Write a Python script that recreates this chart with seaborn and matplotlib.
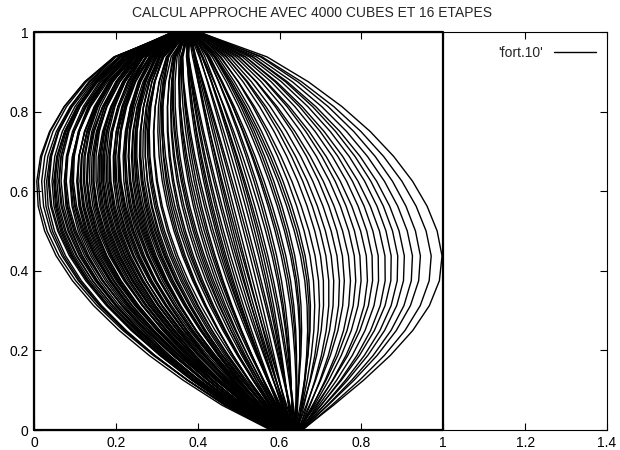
import numpy as np
import pandas as pd
import matplotlib
matplotlib.use("Agg")
import matplotlib.pyplot as plt
from matplotlib.lines import Line2D
from matplotlib.ticker import FormatStrFormatter
import seaborn as sns

# ── DATA ─────────────────────────────────────────────────────────────────────
# x position of every trajectory at mid height (y = 0.5)
x_mid = [
    0.026, 0.040, 0.050, 0.058, 0.065, 0.071, 0.078, 0.083, 0.090, 0.097,
    0.103, 0.108, 0.116, 0.122, 0.128, 0.135, 0.141, 0.148, 0.153, 0.161,
    0.167, 0.173, 0.180, 0.186, 0.193, 0.199, 0.206, 0.212, 0.219, 0.225,
    0.232, 0.239, 0.244, 0.252, 0.258, 0.265, 0.271, 0.277, 0.285, 0.291,
    0.298, 0.305, 0.311, 0.319, 0.326,
    0.342, 0.350, 0.361, 0.370, 0.378, 0.389, 0.397, 0.405, 0.416, 0.425,
    0.433, 0.444, 0.452, 0.463, 0.471, 0.482, 0.492, 0.503, 0.512, 0.524,
    0.533, 0.545, 0.556, 0.566, 0.578, 0.589, 0.600, 0.612, 0.623, 0.636,
    0.648, 0.660,
    0.672, 0.686, 0.699, 0.712, 0.726, 0.740, 0.754, 0.769, 0.783, 0.798,
    0.813, 0.828, 0.844, 0.860, 0.876, 0.892, 0.912, 0.932, 0.958, 0.985,
    # second batch, lying in between the first one
    0.032, 0.045, 0.061, 0.068, 0.075, 0.086, 0.093, 0.100, 0.112, 0.119,
    0.125, 0.131, 0.138, 0.145, 0.151, 0.157, 0.164, 0.170, 0.177, 0.183,
    0.190, 0.196, 0.203, 0.209, 0.216, 0.222, 0.229, 0.235, 0.242, 0.248,
    0.255, 0.262, 0.268, 0.274, 0.281, 0.288, 0.295, 0.302, 0.315, 0.330,
    0.346, 0.356, 0.366, 0.383, 0.393, 0.410, 0.421, 0.438, 0.448, 0.458,
    0.476, 0.487, 0.497, 0.518, 0.539, 0.550, 0.572, 0.594, 0.617, 0.642,
]
# where each trajectory starts (y = 0)
x_bottom = [
    0.578, 0.585, 0.580, 0.592, 0.584, 0.597, 0.588, 0.601, 0.590, 0.595,
    0.604, 0.586, 0.599, 0.607, 0.593, 0.602, 0.610, 0.596, 0.605, 0.612,
    0.598, 0.608, 0.615, 0.603, 0.611, 0.600, 0.617, 0.606, 0.613, 0.620,
    0.609, 0.616, 0.604, 0.619, 0.611, 0.622, 0.614, 0.607, 0.621, 0.616,
    0.624, 0.612, 0.619, 0.626, 0.617,
    0.623, 0.615, 0.628, 0.620, 0.626, 0.618, 0.631, 0.624, 0.629, 0.621,
    0.633, 0.627, 0.622, 0.635, 0.629, 0.625, 0.637, 0.631, 0.627, 0.639,
    0.633, 0.629, 0.641, 0.635, 0.631, 0.643, 0.637, 0.640, 0.634, 0.645,
    0.639, 0.642,
    0.644, 0.638, 0.647, 0.641, 0.649, 0.644, 0.651, 0.646, 0.648, 0.652,
    0.645, 0.650, 0.653, 0.648, 0.654, 0.651, 0.655, 0.652, 0.656, 0.655,
    0.590, 0.582, 0.598, 0.587, 0.603, 0.593, 0.581, 0.606, 0.596, 0.609,
    0.589, 0.601, 0.613, 0.594, 0.607, 0.617, 0.599, 0.610, 0.592, 0.614,
    0.604, 0.619, 0.597, 0.611, 0.621, 0.602, 0.615, 0.608, 0.623, 0.600,
    0.618, 0.612, 0.624, 0.606, 0.620, 0.614, 0.626, 0.610, 0.622, 0.628,
    0.619, 0.627, 0.622, 0.630, 0.624, 0.632, 0.626, 0.634, 0.628, 0.623,
    0.636, 0.630, 0.625, 0.638, 0.632, 0.640, 0.634, 0.642, 0.636, 0.644,
]
# where each trajectory ends (y = 1)
x_top = [
    0.352, 0.345, 0.358, 0.340, 0.350, 0.362, 0.347, 0.355, 0.338, 0.360,
    0.349, 0.366, 0.353, 0.343, 0.359, 0.364, 0.351, 0.346, 0.368, 0.356,
    0.361, 0.344, 0.370, 0.357, 0.363, 0.349, 0.367, 0.354, 0.371, 0.359,
    0.365, 0.352, 0.369, 0.361, 0.373, 0.357, 0.366, 0.372, 0.360, 0.368,
    0.374, 0.363, 0.370, 0.366, 0.375,
    0.369, 0.376, 0.364, 0.372, 0.378, 0.367, 0.374, 0.380, 0.370, 0.377,
    0.373, 0.382, 0.375, 0.379, 0.371, 0.384, 0.377, 0.381, 0.374, 0.386,
    0.379, 0.383, 0.388, 0.376, 0.385, 0.390, 0.381, 0.387, 0.392, 0.384,
    0.389, 0.394,
    0.386, 0.391, 0.396, 0.388, 0.393, 0.398, 0.390, 0.395, 0.400, 0.392,
    0.397, 0.401, 0.394, 0.399, 0.403, 0.396, 0.400, 0.404, 0.398, 0.402,
    0.348, 0.356, 0.341, 0.361, 0.352, 0.339, 0.365, 0.347, 0.358, 0.343,
    0.367, 0.354, 0.362, 0.345, 0.369, 0.350, 0.357, 0.364, 0.342, 0.371,
    0.355, 0.360, 0.348, 0.368, 0.353, 0.372, 0.358, 0.364, 0.350, 0.370,
    0.362, 0.356, 0.374, 0.367, 0.359, 0.372, 0.365, 0.376, 0.369, 0.373,
    0.371, 0.365, 0.378, 0.373, 0.368, 0.381, 0.375, 0.370, 0.383, 0.377,
    0.372, 0.385, 0.379, 0.374, 0.387, 0.381, 0.389, 0.383, 0.391, 0.386,
]
assert len(x_mid) == len(x_bottom) == len(x_top)

# unit cube outline, also part of fort.10
square_x = [0, 1, 1, 0, 0]
square_y = [0, 0, 1, 1, 0]

n_steps = 16
title = "CALCUL APPROCHE AVEC 4000 CUBES ET 16 ETAPES"
legend_label = "'fort.10'"
x_ticks = [0, 0.2, 0.4, 0.6, 0.8, 1.0, 1.2, 1.4]
y_ticks = [0, 0.2, 0.4, 0.6, 0.8, 1.0]


# ── BUILD TRAJECTORIES ───────────────────────────────────────────────────────
def bulge(y, peak, q_low, q_high):
    # 0 at both ends, 1 at y = peak
    y = np.asarray(y, dtype=float)
    u = np.where(y < peak, y / peak, (1 - y) / (1 - peak))
    q = np.where(y < peak, q_low, q_high)
    return np.sin(np.pi / 2 * u) ** q


steps = np.linspace(0, 1, n_steps + 1)
rows = []
for i, (xm, xb, xt) in enumerate(zip(x_mid, x_bottom, x_top)):
    base = xb + (xt - xb) * steps
    off = xm - (xb + xt) / 2
    if off < 0:
        shape = (0.54, 0.84, 0.62)   # bulging left, fuller at the top
    else:
        shape = (0.48, 1.00, 0.66)   # bulging right
    amp = off / bulge(0.5, *shape)
    xs = base + amp * bulge(steps, *shape)
    for xv, yv in zip(xs, steps):
        rows.append({"curve": i, "x": xv, "y": yv})
df = pd.DataFrame(rows)

# ── PLOT ─────────────────────────────────────────────────────────────────────
sns.set_theme(style="ticks")
plt.rcParams["font.family"] = ["Liberation Sans", "DejaVu Sans"]
plt.rcParams.update({
    "xtick.direction": "in", "ytick.direction": "in",
    "xtick.top": True, "ytick.right": True,
    "xtick.major.size": 5, "ytick.major.size": 5,
    "xtick.major.width": 0.8, "ytick.major.width": 0.8,
    "xtick.color": "black", "ytick.color": "black",
    "axes.edgecolor": "black", "axes.linewidth": 0.8,
})

fig, ax = plt.subplots(figsize=(6.2, 4.5), dpi=100)
fig.subplots_adjust(left=34 / 620, right=607 / 620, bottom=20 / 450, top=1 - 32 / 450)

sns.lineplot(data=df, x="x", y="y", units="curve", estimator=None, sort=False,
             color="black", linewidth=1.0, ax=ax)
ax.plot(square_x, square_y, color="black", linewidth=1.6, clip_on=False)

ax.set_xlim(0, 1.4)
ax.set_ylim(0, 1)
ax.set_xticks(x_ticks)
ax.set_yticks(y_ticks)
ax.xaxis.set_major_formatter(FormatStrFormatter("%g"))
ax.yaxis.set_major_formatter(FormatStrFormatter("%g"))
ax.tick_params(labelsize=10, pad=4)
ax.set_xlabel("")
ax.set_ylabel("")

ax.legend(handles=[Line2D([], [], color="black", linewidth=1.0)], labels=[legend_label],
          loc="upper right", bbox_to_anchor=(0.995, 0.985), frameon=False,
          markerfirst=False, handlelength=3, fontsize=10, borderaxespad=0.2)

fig.suptitle(title, x=0.503, y=1 - 6 / 450, va="top", fontsize=10)

plt.savefig("out.png", dpi=100)
